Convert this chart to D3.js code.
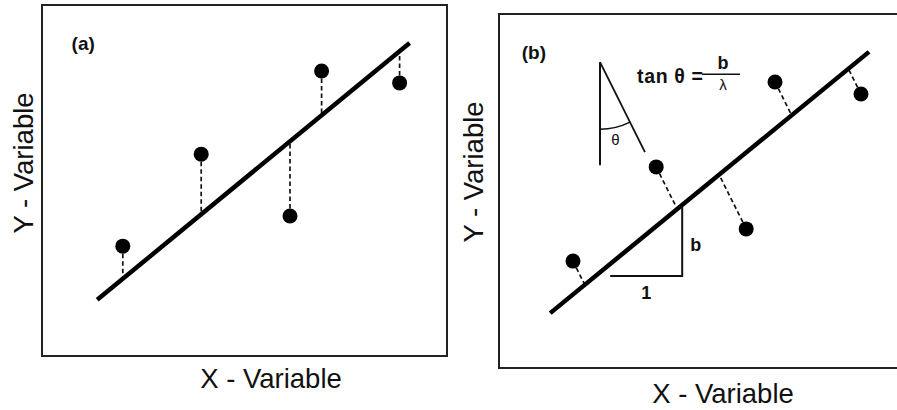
<!DOCTYPE html>
<html>
<head>
<meta charset="utf-8">
<script src="https://cdn.jsdelivr.net/npm/d3@7/dist/d3.min.js"></script>
<style>
  html, body { margin: 0; padding: 0; background: #fff; }
  svg { display: block; }
  text { font-family: "Liberation Sans", Arial, Helvetica, sans-serif; fill: #111; }
</style>
</head>
<body>
<svg id="chart" width="897" height="410"></svg>
<script>
// ---------- data (abstract units, 0–10 on each axis) ----------
const panelLabels = ["(a)", "(b)"];
const xTitle = "X - Variable";
const yTitle = "Y - Variable";

// panel (a): ordinary least squares, vertical residuals
const pointsAX = [2.02, 3.98, 6.20, 6.99, 8.94];
const pointsAY = [3.13, 5.75, 3.99, 8.12, 7.78];
const lineAX = [1.38, 9.19];
const lineAY = [1.60, 8.92];

// panel (b): residuals at angle theta
const pointsBX = [1.85, 3.93, 6.18, 6.90, 9.05];
const pointsBY = [3.02, 5.68, 3.93, 8.08, 7.74];
const lineBX = [1.28, 9.25];
const lineBY = [1.55, 8.93];
const tanTheta = 0.5;                 // b / lambda
const slopeTriX = [2.78, 4.58];       // "1" run of the slope triangle
const slopeTriY = 2.60;
const slopeLabels = ["1", "b"];
const thetaApex = [2.525, 8.64];
const thetaVertEndY = 5.73;
const thetaDiagEndY = 6.10;
const formulaParts = ["tan θ =", "b", "λ"];
const thetaSymbol = "θ";

// ---------- layout ----------
const svg = d3.select("#chart");
const panels = [
  { label: panelLabels[0], box: { x0: 42, x1: 447, y0: 5, y1: 356 },
    px: pointsAX, py: pointsAY, lx: lineAX, ly: lineAY,
    labelPos: [0.74, 8.72], xTitlePos: [271, 388], yTitlePos: [33, 163], mode: "vertical" },
  { label: panelLabels[1], box: { x0: 499, x1: 905, y0: 14, y1: 368 },
    px: pointsBX, py: pointsBY, lx: lineBX, ly: lineBY,
    labelPos: [0.57, 8.73], xTitlePos: [723, 403], yTitlePos: [483, 172], mode: "theta" }
];

panels.forEach(p => {
  const b = p.box;
  const x = d3.scaleLinear().domain([0, 10]).range([b.x0, b.x0 + 400]);
  const y = d3.scaleLinear().domain([0, 10]).range([b.y1, b.y0]);
  const g = svg.append("g");

  // frame
  g.append("rect")
    .attr("x", b.x0).attr("y", b.y0)
    .attr("width", b.x1 - b.x0).attr("height", b.y1 - b.y0)
    .attr("fill", "none").attr("stroke", "#222").attr("stroke-width", 2);

  // fitted line in pixel space
  const X1 = x(p.lx[0]), Y1 = y(p.ly[0]), X2 = x(p.lx[1]), Y2 = y(p.ly[1]);
  const m = (Y2 - Y1) / (X2 - X1);
  const lineAt = xx => Y1 + m * (xx - X1);

  // residual segments
  const pts = p.px.map((v, i) => ({ X: x(v), Y: y(p.py[i]) }));
  pts.forEach(pt => {
    let fx, fy;
    if (p.mode === "vertical") {
      fx = pt.X; fy = lineAt(pt.X);
    } else {
      const s = pt.Y < lineAt(pt.X) ? 1 : -1;
      const dx = tanTheta * s, dy = s;
      const t = (Y1 + m * (pt.X - X1) - pt.Y) / (dy - m * dx);
      fx = pt.X + t * dx; fy = pt.Y + t * dy;
    }
    g.append("line")
      .attr("x1", pt.X).attr("y1", pt.Y).attr("x2", fx).attr("y2", fy)
      .attr("stroke", "#111").attr("stroke-width", 1.7)
      .attr("stroke-dasharray", "4.5,3");
  });

  g.append("line")
    .attr("x1", X1).attr("y1", Y1).attr("x2", X2).attr("y2", Y2)
    .attr("stroke", "#000").attr("stroke-width", 4.5).attr("stroke-linecap", "butt");

  g.selectAll("circle.pt").data(pts).enter().append("circle")
    .attr("class", "pt")
    .attr("cx", d => d.X).attr("cy", d => d.Y).attr("r", 7.5)
    .attr("fill", "#000");

  // panel label
  g.append("text")
    .attr("x", x(p.labelPos[0])).attr("y", y(p.labelPos[1]))
    .attr("font-size", 19).attr("font-weight", "bold")
    .text(p.label);

  // axis titles
  g.append("text")
    .attr("x", p.xTitlePos[0]).attr("y", p.xTitlePos[1])
    .attr("text-anchor", "middle").attr("font-size", 27.5)
    .text(xTitle);
  g.append("text")
    .attr("transform", `translate(${p.yTitlePos[0]},${p.yTitlePos[1]}) rotate(-90)`)
    .attr("text-anchor", "middle").attr("font-size", 27.5)
    .text(yTitle);

  if (p.mode === "theta") {
    // slope triangle
    const tx0 = x(slopeTriX[0]), tx1 = x(slopeTriX[1]), ty = y(slopeTriY);
    g.append("path")
      .attr("d", `M${tx0},${ty} L${tx1},${ty} L${tx1},${lineAt(tx1) + 2}`)
      .attr("fill", "none").attr("stroke", "#111").attr("stroke-width", 2);
    g.append("text").attr("x", (tx0 + tx1) / 2).attr("y", ty + 23)
      .attr("text-anchor", "middle").attr("font-size", 18).attr("font-weight", "bold")
      .text(slopeLabels[0]);
    g.append("text").attr("x", tx1 + 8).attr("y", (ty + lineAt(tx1)) / 2 + 11)
      .attr("font-size", 18).attr("font-weight", "bold")
      .text(slopeLabels[1]);

    // theta angle figure
    const ax = x(thetaApex[0]), ay = y(thetaApex[1]);
    const vy = y(thetaVertEndY);
    const dyDiag = y(thetaDiagEndY) - ay;
    const dxDiag = dyDiag * tanTheta;
    g.append("line").attr("x1", ax).attr("y1", ay).attr("x2", ax).attr("y2", vy)
      .attr("stroke", "#111").attr("stroke-width", 2);
    g.append("line").attr("x1", ax).attr("y1", ay).attr("x2", ax + dxDiag).attr("y2", ay + dyDiag)
      .attr("stroke", "#111").attr("stroke-width", 1.8);
    const R = 67;
    const th = Math.atan(tanTheta);
    g.append("path")
      .attr("d", `M${ax},${ay + R} A${R},${R} 0 0 0 ${ax + R * Math.sin(th)},${ay + R * Math.cos(th)}`)
      .attr("fill", "none").attr("stroke", "#111").attr("stroke-width", 1.5);
    g.append("text")
      .attr("x", ax + R * Math.sin(th / 2)).attr("y", ay + R + 16)
      .attr("text-anchor", "middle").attr("font-size", 15)
      .text(thetaSymbol);

    // formula tan θ = b / λ
    const fx = ax + 37, fy = ay + 21;
    g.append("text").attr("x", fx).attr("y", fy)
      .attr("font-size", 19.5).attr("font-weight", "bold")
      .attr("textLength", 66).attr("lengthAdjust", "spacing")
      .text(formulaParts[0]);
    const barX0 = fx + 65, barX1 = fx + 103;
    g.append("line").attr("x1", barX0).attr("y1", fy - 9).attr("x2", barX1).attr("y2", fy - 9)
      .attr("stroke", "#111").attr("stroke-width", 1.5);
    g.append("text").attr("x", (barX0 + barX1) / 2 + 2).attr("y", fy - 14)
      .attr("text-anchor", "middle").attr("font-size", 18).attr("font-weight", "bold")
      .text(formulaParts[1]);
    g.append("text").attr("x", (barX0 + barX1) / 2 + 2).attr("y", fy + 7)
      .attr("text-anchor", "middle").attr("font-size", 15)
      .text(formulaParts[2]);
  }
});
</script>
</body>
</html>
